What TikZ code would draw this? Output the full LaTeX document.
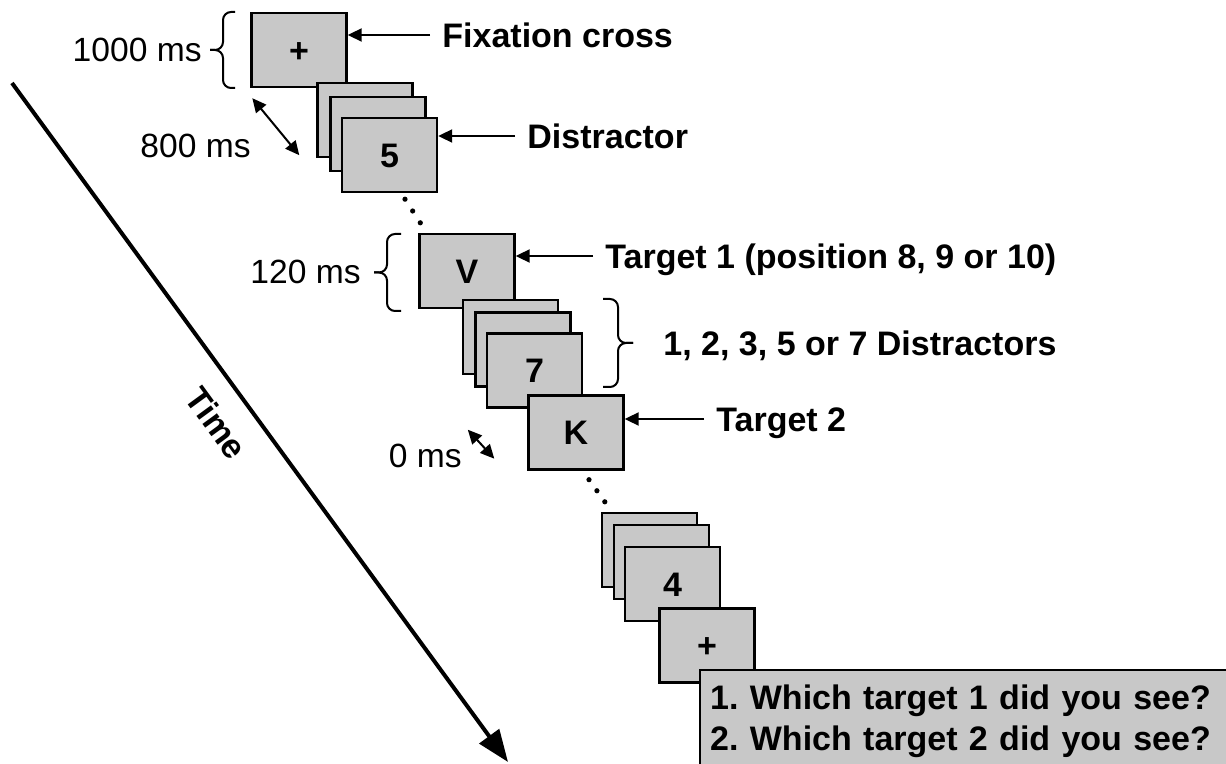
\documentclass[tikz,border=0pt]{standalone}
\usepackage{fontspec}
\setmainfont{Liberation Sans}
\usetikzlibrary{arrows.meta,calc}
\definecolor{boxgray}{RGB}{200,200,200}
\frenchspacing

% curly bracket drawn as two rounded half-paths meeting at the tip
% #1 end x, #2 spine x, #3 tip x, #4 top y, #5 bottom y
\newcommand\spanbrace[5]{%
  \draw[bracket] (#1,#4) -- (#2,#4) -- (#2,{(#4+#5)/2}) -- (#3,{(#4+#5)/2});
  \draw[bracket] (#1,#5) -- (#2,#5) -- (#2,{(#4+#5)/2}) -- (#3,{(#4+#5)/2});}

\begin{document}
\begin{tikzpicture}[x=0.5pt,y=-0.5pt,
  bigfont/.style={font=\bfseries\fontsize{17}{20.5}\selectfont},
  screen/.style={draw=black, line width=1.2pt, fill=boxgray,
    minimum width=47.5pt, minimum height=37pt, inner sep=0pt,
    bigfont, text height=12.2pt, text depth=0pt},
  lbl/.style={bigfont, inner xsep=6pt, inner ysep=0pt,
    text height=12.2pt, text depth=0pt, anchor=west},
  dur/.style={font=\fontsize{16.8}{20}\selectfont, inner sep=0pt,
    text height=12pt, text depth=0pt, anchor=east},
  pointer/.style={line width=1pt, -{Triangle[length=7pt,width=6.5pt]}},
  span/.style={line width=1pt,
    {Triangle[length=7pt,width=6.5pt]}-{Triangle[length=7pt,width=6.5pt]}},
  bracket/.style={line width=1pt, rounded corners=4pt},
  timeaxis/.style={line width=2pt, -{Triangle[length=16pt,width=12pt]}},
  qbox/.style={draw=black, line width=1.2pt, fill=boxgray, bigfont,
    align=left, text width=260pt, inner xsep=5pt, inner ysep=7.5pt},
]
\clip (0,0) rectangle (1226,764);

% time axis
\coordinate (t0) at (12,83);
\coordinate (t1) at (508,762);
\draw[timeaxis] (t0) -- (t1)
  node[pos=0.47, sloped, below=10.5pt, bigfont, inner sep=0pt,
       text height=12.2pt, text depth=0pt] (tlab) {Time};

% fixation and first distractors
\node[screen] (fix) at (299,50) {+};
\node[screen] (d1) at (365,120) {};
\node[screen] (d2) at (378,134) {};
\node[screen] (d3) at (389.5,155) {5};

% target 1 and intervening distractors
\node[screen] (tgt1) at (467,271) {V};
\node[screen] (s1) at (510.5,337) {};
\node[screen] (s2) at (523,349.5) {};
\node[screen] (s3) at (534.5,370.5) {7};
\node[screen] (tgt2) at (576,432.5) {K};

% trailing distractors, final fixation, questions
\node[screen] (e1) at (649.5,550) {};
\node[screen] (e2) at (661.5,562) {};
\node[screen] (e3) at (672.5,584) {4};
\node[screen] (fin) at (707,645.5) {+};
\node[qbox, anchor=north west] (ask) at (699,669)
  {1. Which target 1 did you see?\\2. Which target 2 did you see?};

% ellipsis dots between sequences
\coordinate (g1a) at ($(d3.south)+(15.5,6)$);
\coordinate (g1b) at ($(tgt1.north west)+(2,-10)$);
\coordinate (g2a) at ($(tgt2.south)+(13,9)$);
\coordinate (g2b) at ($(e1.north west)+(4,-10)$);
\foreach \t in {0,0.5,1} {
  \fill ($(g1a)!\t!(g1b)$) circle (1.3pt);
  \fill ($(g2a)!\t!(g2b)$) circle (1.3pt);
}

% pointer labels
\node[lbl] (lfix) at (430,35) {Fixation cross};
\draw[pointer] (lfix.west) -- (lfix.west -| fix.east);
\node[lbl] (ldis) at (515,136) {Distractor};
\draw[pointer] (ldis.west) -- (ldis.west -| d3.east);
\node[lbl] (lt1) at (593,256) {Target 1 (position 8, 9 or 10)};
\draw[pointer] (lt1.west) -- (lt1.west -| tgt1.east);
\node[lbl] (lt2) at (704,419) {Target 2};
\draw[pointer] (lt2.west) -- (lt2.west -| tgt2.east);

% durations
\node[dur] (d1000) at (202,50) {1000 ms};
\spanbrace{235}{223}{210}{12}{88}
\node[dur] (d800) at (251,146) {800 ms};
\draw[span] ($(fix.south west)+(2,10)$) -- ($(d1.south west)+(-17,-3)$);
\node[dur] (d120) at (361,272) {120 ms};
\spanbrace{401}{387}{374}{234}{311}
\node[dur] (d0) at (462,455) {0 ms};
\draw[span] ($(s3.south west)+(-18,21)$) -- ($(tgt2.south west)+(-33,-12)$);

% number of distractors between targets
\spanbrace{603}{618}{633}{299}{387}
\node[lbl, inner xsep=0pt] (ldn) at (663,343) {1, 2, 3, 5 or 7 Distractors};
\end{tikzpicture}
\end{document}
